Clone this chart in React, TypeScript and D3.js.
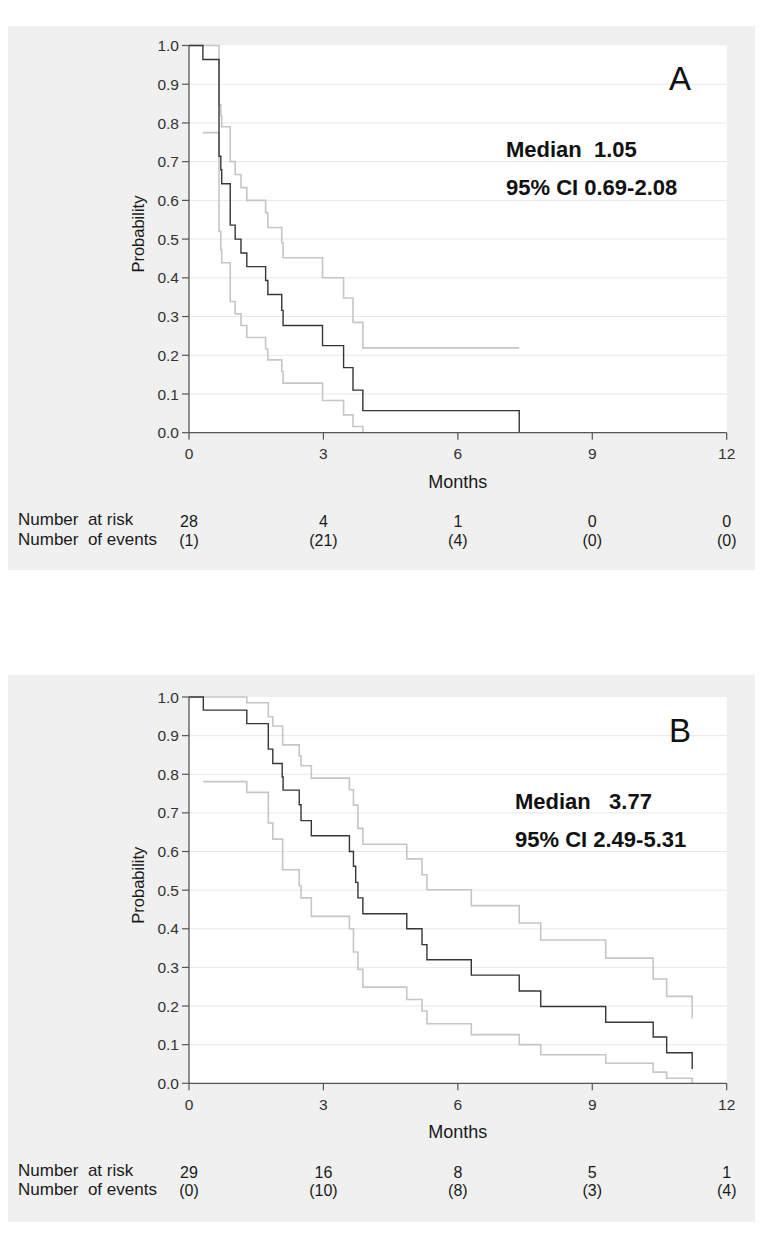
import React from 'react';
import * as d3 from 'd3';

// Panel A - survival curve and 95% CI (months, probability)
const timesA = [0, 0.31, 0.67, 0.71, 0.73, 0.92, 1.03, 1.16, 1.29, 1.71, 1.76, 2.07, 2.10, 2.98, 3.45, 3.66, 3.88, 7.37];
const survA = [1, 0.964, 0.714, 0.679, 0.643, 0.536, 0.5, 0.464, 0.429, 0.393, 0.357, 0.316, 0.277, 0.225, 0.168, 0.11, 0.057, 0];
const upperTimesA = [0, 0.67, 0.71, 0.73, 0.92, 1.03, 1.16, 1.29, 1.71, 1.76, 2.07, 2.10, 2.98, 3.45, 3.66, 3.88, 7.37];
const upperA = [1, 0.847, 0.819, 0.79, 0.70, 0.667, 0.633, 0.60, 0.568, 0.53, 0.49, 0.452, 0.40, 0.348, 0.285, 0.219, 0.219];
const lowerTimesA = [0.31, 0.67, 0.71, 0.73, 0.92, 1.03, 1.16, 1.29, 1.71, 1.76, 2.07, 2.10, 2.98, 3.45, 3.66, 3.88];
const lowerA = [0.775, 0.52, 0.473, 0.439, 0.339, 0.307, 0.277, 0.246, 0.216, 0.188, 0.158, 0.128, 0.083, 0.046, 0.016, 0];
const atRiskA = [28, 4, 1, 0, 0];
const eventsA = [1, 21, 4, 0, 0];

// Panel B
const timesB = [0, 0.32, 1.29, 1.77, 1.87, 2.08, 2.10, 2.46, 2.50, 2.73, 3.58, 3.67, 3.72, 3.77, 3.88, 4.86, 5.20, 5.31, 6.30, 7.37, 7.85, 9.30, 10.36, 10.66, 11.23];
const survB = [1, 0.966, 0.931, 0.865, 0.828, 0.793, 0.759, 0.721, 0.68, 0.641, 0.60, 0.562, 0.52, 0.48, 0.439, 0.40, 0.359, 0.32, 0.28, 0.239, 0.199, 0.158, 0.12, 0.079, 0.037];
const upperTimesB = [0, 1.29, 1.77, 1.87, 2.09, 2.46, 2.50, 2.73, 3.58, 3.67, 3.77, 3.88, 4.86, 5.20, 5.31, 6.30, 7.37, 7.85, 9.30, 10.36, 10.66, 11.23];
const upperB = [1, 0.985, 0.949, 0.925, 0.876, 0.848, 0.822, 0.79, 0.76, 0.72, 0.66, 0.619, 0.581, 0.54, 0.501, 0.46, 0.415, 0.371, 0.324, 0.27, 0.225, 0.168];
const lowerTimesB = [0.32, 1.29, 1.77, 1.87, 2.09, 2.46, 2.50, 2.73, 3.58, 3.67, 3.77, 3.88, 4.86, 5.20, 5.31, 6.30, 7.37, 7.85, 9.30, 10.36, 10.66, 11.23];
const lowerB = [0.781, 0.753, 0.674, 0.632, 0.553, 0.512, 0.48, 0.432, 0.40, 0.34, 0.295, 0.249, 0.217, 0.187, 0.154, 0.126, 0.10, 0.074, 0.052, 0.029, 0.013, 0];
const atRiskB = [29, 16, 8, 5, 1];
const eventsB = [0, 10, 8, 3, 4];

const xTicks = [0, 3, 6, 9, 12];
const yTicks = [0, 0.1, 0.2, 0.3, 0.4, 0.5, 0.6, 0.7, 0.8, 0.9, 1.0];

const FONT = "'Liberation Sans', Arial, sans-serif";
const TEXT = '#1a1a1a';

const zip = (t: number[], v: number[]) => t.map((d, i) => [d, v[i]] as [number, number]);

function Panel({ boxTop, boxH, plotTop, plotBottom, letter, median, ci, textX, surv, upper, lower, atRisk, events }: any) {
  const x = d3.scaleLinear().domain([0, 12]).range([189, 726.7]);
  const y = d3.scaleLinear().domain([0, 1]).range([plotBottom, plotTop]);

  const line = d3.line<[number, number]>()
    .x(d => x(d[0]))
    .y(d => y(d[1]))
    .curve(d3.curveStepAfter);

  return (
    <g fontFamily={FONT}>
      <rect x={8} y={boxTop} width={747} height={boxH} fill="#f0f0f0" />
      <rect x={x(0)} y={y(1)} width={x(12) - x(0)} height={y(0) - y(1)} fill="#fff" />

      {/* grid */}
      {yTicks.slice(1, -1).map(t => (
        <line key={t} x1={x(0)} x2={x(12)} y1={y(t)} y2={y(t)} stroke="#e8e8e8" strokeWidth={1} />
      ))}

      {/* confidence limits and survival curve */}
      <path d={line(upper) || ''} fill="none" stroke="#c6c6c6" strokeWidth={1.6} />
      <path d={line(lower) || ''} fill="none" stroke="#c6c6c6" strokeWidth={1.6} />
      <path d={line(surv) || ''} fill="none" stroke="#363636" strokeWidth={1.4} />

      {/* y axis */}
      <line x1={x(0)} x2={x(0)} y1={y(1)} y2={y(0)} stroke="#555" strokeWidth={1.3} />
      {yTicks.map(t => (
        <g key={t} transform={`translate(0,${y(t)})`}>
          <line x1={x(0) - 7} x2={x(0)} stroke="#555" strokeWidth={1.2} />
          <text x={179} dy="0.36em" textAnchor="end" fontSize={15.5} fill="#333">{t.toFixed(1)}</text>
        </g>
      ))}
      <text transform={`translate(144,${(y(1) + y(0)) / 2 - 5}) rotate(-90)`} textAnchor="middle" fontSize={16.5} fill={TEXT}>Probability</text>

      {/* x axis */}
      <line x1={x(0)} x2={x(12)} y1={y(0)} y2={y(0)} stroke="#555" strokeWidth={1.3} />
      {xTicks.map(t => (
        <g key={t} transform={`translate(${x(t)},0)`}>
          <line y1={y(0)} y2={y(0) + 7} stroke="#555" strokeWidth={1.2} />
          <text y={y(0) + 26.5} textAnchor="middle" fontSize={15.5} fill="#333">{t}</text>
        </g>
      ))}
      <text x={x(6)} y={y(0) + 55} textAnchor="middle" fontSize={18} fill={TEXT}>Months</text>

      {/* panel letter and median */}
      <text x={680} y={plotTop + 44.5} textAnchor="middle" fontSize={33} fill="#111">{letter}</text>
      <text x={textX} y={plotTop + 111.5} fontSize={22} fontWeight="bold" fill="#111" style={{ whiteSpace: 'pre' }}>{median}</text>
      <text x={textX} y={plotTop + 149.5} fontSize={22} fontWeight="bold" fill="#111" style={{ whiteSpace: 'pre' }}>{ci}</text>

      {/* risk table */}
      <text x={18} y={y(0) + 92.5} fontSize={17} fill={TEXT} style={{ whiteSpace: 'pre' }}>{'Number  at risk'}</text>
      <text x={18} y={y(0) + 112} fontSize={17} fill={TEXT} style={{ whiteSpace: 'pre' }}>{'Number  of events'}</text>
      {xTicks.map((t, i) => (
        <g key={t}>
          <text x={x(t)} y={y(0) + 94.5} textAnchor="middle" fontSize={16} fill={TEXT}>{atRisk[i]}</text>
          <text x={x(t)} y={y(0) + 113} textAnchor="middle" fontSize={16} fill={TEXT}>({events[i]})</text>
        </g>
      ))}
    </g>
  );
}

export default function App() {
  return (
    <svg width={782} height={1242} style={{ position: 'absolute', left: 0, top: 0, background: '#fff' }}>
      <Panel
        boxTop={26} boxH={544} plotTop={45.5} plotBottom={432.7}
        letter="A" median="Median  1.05" ci="95% CI 0.69-2.08" textX={506}
        surv={zip(timesA, survA)} upper={zip(upperTimesA, upperA)} lower={zip(lowerTimesA, lowerA)}
        atRisk={atRiskA} events={eventsA}
      />
      <Panel
        boxTop={675} boxH={547} plotTop={697} plotBottom={1083.3}
        letter="B" median="Median   3.77" ci="95% CI 2.49-5.31" textX={515}
        surv={zip(timesB, survB)} upper={zip(upperTimesB, upperB)} lower={zip(lowerTimesB, lowerB)}
        atRisk={atRiskB} events={eventsB}
      />
    </svg>
  );
}
